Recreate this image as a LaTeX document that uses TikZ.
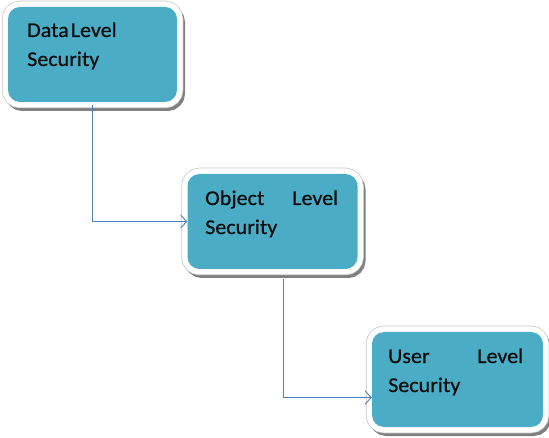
\documentclass[tikz,border=0pt]{standalone}
\usepackage{fontspec}
\newfontfamily\boxfont{Carlito}[FakeStretch=1.05,FakeBold=0.6]
\usetikzlibrary{arrows.meta}
\definecolor{boxteal}{HTML}{4BACC6}
\definecolor{connblue}{HTML}{4F81BD}
\definecolor{boxtext}{HTML}{0D0D0D}
\tikzset{
  secbox/.style={rectangle, rounded corners=12pt, fill=boxteal, inner sep=0pt,
    minimum width=#1,
    preaction={draw=black!50, line width=11pt, transform canvas={shift={(2.5pt,-3.5pt)}}},
    preaction={draw=black!22, line width=12.5pt},
    preaction={draw=white, line width=11pt}},
  boxlabel/.style={anchor=base west, inner sep=0pt, align=left, text=boxtext,
    font=\boxfont\fontsize{21}{29}\selectfont},
  conn/.style={draw=connblue, line width=0.9pt, -{Straight Barb[length=6pt,width=13pt]}}
}
\begin{document}
\begin{tikzpicture}[x=1pt,y=-1pt]
\useasboundingbox (0,0) rectangle (549,438);
\node[secbox=169pt, minimum height=95pt] (b1) at (92.5,54.5) {};
\node[secbox=170pt, minimum height=95pt] (b2) at (272.5,221.5) {};
\node[secbox=171pt, minimum height=95pt] (b3) at (457.5,379.5) {};
\node[boxlabel, text width=140pt] (t1) at (27,37) {Data\hspace{2pt}Level\\Security};
\node[boxlabel, text width=133pt] (t2) at (205,205) {Object\hfill Level\\Security};
\node[boxlabel, text width=135pt] (t3) at (388,363) {User\hfill Level\\Security};
\draw[conn, shorten <=3pt] (b1.south) |- (b2.west);
\coordinate (e3) at ([yshift=-18pt]b3.west);
\draw[conn, shorten <=10pt] ([xshift=10.5pt]b2.south) |- (e3);
\end{tikzpicture}
\end{document}
